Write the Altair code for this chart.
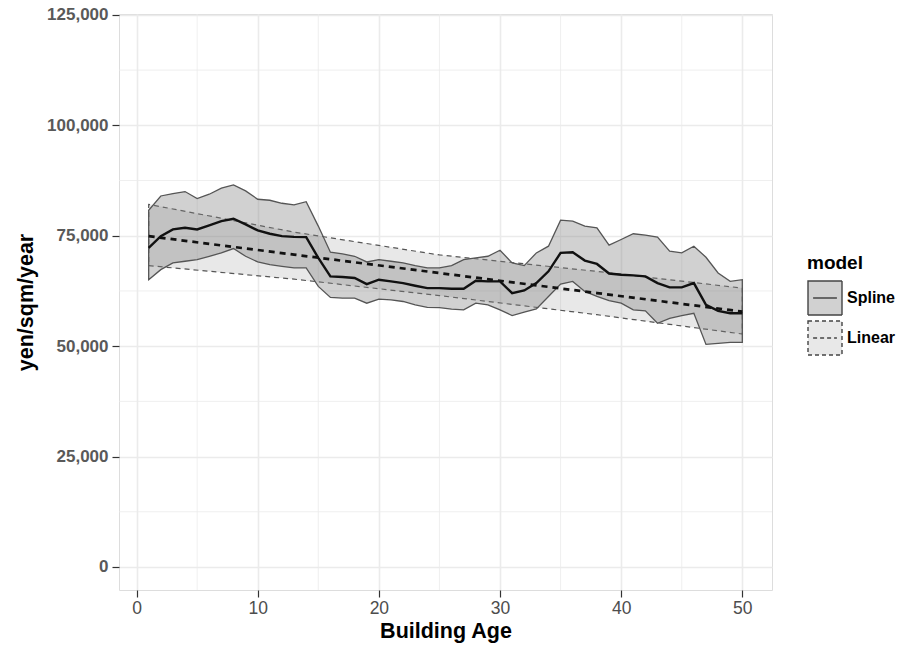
import altair as alt
import pandas as pd

# ---------------- data ----------------
ages = list(range(1, 51))
spline_fit = [72250, 74900, 76430, 76800, 76430, 77340, 78300, 78850, 77570, 76200,
              75450, 74900, 74750, 74680, 69970, 65800, 65650, 65420, 64050, 65040,
              64660, 64280, 63680, 63140, 63140, 63000, 63000, 64820, 64660, 64660,
              62000, 62610, 64280, 66940, 71110, 71270, 69370, 68610, 66450, 66180,
              66030, 65800, 64280, 63300, 63300, 64280, 59350, 57990, 57450, 57450]
spline_lower = [65040, 67320, 68840, 69220, 69600, 70350, 71110, 72100, 70350, 69060,
                68460, 68080, 67700, 67700, 63520, 61020, 60860, 60860, 59720, 60630,
                60480, 60110, 59350, 58800, 58740, 58360, 58210, 59720, 59350, 58210,
                56920, 57680, 58440, 61250, 64050, 64660, 62390, 61250, 60300, 59720,
                58210, 57990, 55170, 56310, 56920, 57450, 50390, 50620, 50850, 50850]
spline_upper = [80760, 84000, 84550, 85000, 83400, 84400, 85770, 86520, 85150, 83260,
                83030, 82350, 81970, 82700, 77180, 71270, 70880, 70350, 69060, 69600,
                69220, 68840, 68230, 67700, 67700, 68230, 69600, 69970, 70350, 71720,
                68840, 68230, 71110, 72630, 78530, 78300, 77180, 76800, 72860, 74150,
                75450, 75140, 74680, 71500, 71110, 72630, 70130, 66560, 64660, 65040]

linear_ages = [1, 13, 25, 38, 50]
linear_fit = [74900, 70720, 66550, 62020, 57830]
linear_lower = [68230, 65170, 61450, 57120, 52750]
linear_upper = [82100, 75820, 70650, 66920, 63140]

models = ["Spline", "Linear"]

x_major = [0, 10, 20, 30, 40, 50]
x_minor = [5, 15, 25, 35, 45]
y_major = [0, 25000, 50000, 75000, 100000, 125000]
y_minor = [12500, 37500, 62500, 87500, 112500]

# ---------------- tables ----------------
spline_df = pd.DataFrame({"age": ages, "fit": spline_fit, "lower": spline_lower,
                          "upper": spline_upper, "model": models[0]})
linear_df = pd.DataFrame({"age": linear_ages, "fit": linear_fit, "lower": linear_lower,
                          "upper": linear_upper, "model": models[1]})

FONT = "Liberation Sans"
GRID = "#ebebeb"

xs = alt.Scale(domain=[-1.45, 52.45], nice=False, zero=False)
ys = alt.Scale(domain=[-5210, 125200], nice=False, zero=False)

x_axis = alt.Axis(values=x_major, title="Building Age", grid=True, gridColor=GRID,
                  gridWidth=1.6, domain=False, tickSize=7, tickColor="#333333",
                  tickWidth=1.2, labelFontSize=17.5, labelColor="#4d4d4d",
                  labelPadding=2, labelFont=FONT, titleFont=FONT, titleFontSize=21.5,
                  titleFontWeight="bold", titleColor="#000000", titlePadding=4)
y_axis = alt.Axis(values=y_major, format=",d", title="yen/sqm/year", grid=True,
                  gridColor=GRID, gridWidth=1.6, domain=False, tickSize=7,
                  tickColor="#333333", tickWidth=1.2, labelFontSize=17,
                  labelFontWeight="bold", labelColor="#595959", labelPadding=4,
                  labelFont=FONT, titleFont=FONT, titleFontSize=21.5,
                  titleFontWeight="bold", titleColor="#000000", titlePadding=9)


def X(field):
    return alt.X(field, type="quantitative", scale=xs, axis=x_axis, title="Building Age")


def Y(field):
    return alt.Y(field, type="quantitative", scale=ys, axis=y_axis, title="yen/sqm/year")


legend = alt.Legend(
    title="model", orient="none", legendX=688, legendY=240,
    symbolType="M-1,-1H1V1H-1Z M-0.7,0H0.7", symbolSize=1156,
    symbolStrokeColor="#444444", symbolStrokeWidth=1.4,
    symbolDash=alt.ExprRef(expr="datum.value === 'Linear' ? [4, 3] : [1, 0]"),
    titleFontSize=19, titleFontWeight="bold", titleFont=FONT, titleColor="#000000",
    labelFontSize=16, labelFontWeight="bold", labelFont=FONT, labelColor="#000000",
    labelOffset=4, rowPadding=0, titlePadding=7, padding=0,
)

fill_scale = alt.Scale(domain=models,
                       range=["rgba(128,128,128,0.36)", "rgba(128,128,128,0.18)"])

minor_v = alt.Chart(pd.DataFrame({"v": x_minor})).mark_rule(
    color=GRID, strokeWidth=0.8).encode(x=X("v"))
minor_h = alt.Chart(pd.DataFrame({"v": y_minor})).mark_rule(
    color=GRID, strokeWidth=0.8).encode(y=Y("v"))

spline_area = alt.Chart(spline_df).mark_area(
    stroke="#555555", strokeWidth=1.3, opacity=1).encode(
    x=X("age"), y=Y("lower"), y2="upper:Q",
    fill=alt.Fill("model:N", scale=fill_scale, legend=legend, title="model"),
)
linear_area = alt.Chart(linear_df).mark_area(
    stroke="#555555", strokeWidth=1.2, strokeDash=[5, 4], opacity=1).encode(
    x=X("age"), y=Y("lower"), y2="upper:Q",
    fill=alt.Fill("model:N", scale=fill_scale, legend=legend, title="model"),
)

linear_line = alt.Chart(linear_df).mark_line(
    color="#111111", strokeWidth=2.7, strokeDash=[6, 5]).encode(x=X("age"), y=Y("fit"))
spline_line = alt.Chart(spline_df).mark_line(
    color="#111111", strokeWidth=2.4).encode(x=X("age"), y=Y("fit"))

chart = alt.layer(minor_v, minor_h, linear_area, spline_area, linear_line,
                  spline_line).properties(
    width=653, height=576,
    padding={"left": 119, "top": 14, "right": 133, "bottom": 63},
    autosize=alt.AutoSizeParams(type="none"),
    background="white",
).configure_view(stroke="#555555", strokeWidth=1.3).configure(font=FONT)

chart.save("out.html", embed_options={"renderer": "svg", "actions": False})
